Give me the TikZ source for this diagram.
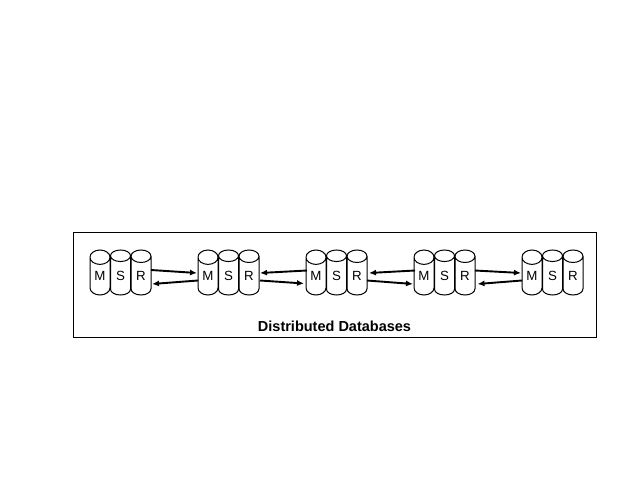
\documentclass[tikz,border=0pt]{standalone}
\usepackage{fontspec}
\setmainfont{Liberation Sans}
\usetikzlibrary{shapes.geometric,arrows.meta,calc}
\tikzset{
  frame/.style={draw=black,line width=1bp,fill=white,minimum width=523bp,minimum height=105bp,inner sep=0pt,outer sep=0pt},
  dbcyl/.style={draw=black,line width=1bp,shape=cylinder,shape border rotate=90,shape aspect=1.3,minimum width=20bp,minimum height=45bp,inner sep=0pt,outer sep=0pt,anchor=shape center,font=\fontsize{13.3bp}{13.3bp}\selectfont},
  link/.style={draw=black,line width=1.9bp,-{Latex[length=7bp,width=6bp]}},
  titletext/.style={font=\fontsize{14.5bp}{14.5bp}\selectfont\bfseries,inner sep=0pt}
}
\begin{document}
\begin{tikzpicture}[x=1bp,y=-1bp]
\useasboundingbox (0,0) rectangle (640,480);
\fill[white] (0,0) rectangle (640,480);
\node[frame] (box) at (335,285) {};
\foreach \n/\x in {1/90,2/198,3/306,4/414,5/522}{
  \node[dbcyl] (M\n) at (\x+10,272.5) {M};
  \node[dbcyl] (S\n) at (\x+30.5,272.5) {S};
  \node[dbcyl] (R\n) at (\x+51,272.5) {R};
}
\node[titletext] (title) at (334.5,326) {Distributed Databases};
% gap 1
\draw[link] ($(R1.shape center)+(10,-2.5)$) -- ($(M2.shape center)+(-11,0.5)$);
\draw[link] ($(M2.shape center)+(-10,8)$) -- ($(R1.shape center)+(11,11.5)$);
% gap 2
\draw[link] ($(M3.shape center)+(-9,-2)$) -- ($(R2.shape center)+(11,0.5)$);
\draw[link] ($(R2.shape center)+(11,8)$) -- ($(M3.shape center)+(-12,11)$);
% gap 3
\draw[link] ($(M4.shape center)+(-9,-2)$) -- ($(R3.shape center)+(12,0.5)$);
\draw[link] ($(R3.shape center)+(10,8)$) -- ($(M4.shape center)+(-11,11.5)$);
% gap 4
\draw[link] ($(R4.shape center)+(10,-2)$) -- ($(M5.shape center)+(-11,0.5)$);
\draw[link] ($(M5.shape center)+(-10,8)$) -- ($(R4.shape center)+(12.5,11.5)$);
\end{tikzpicture}
\end{document}
